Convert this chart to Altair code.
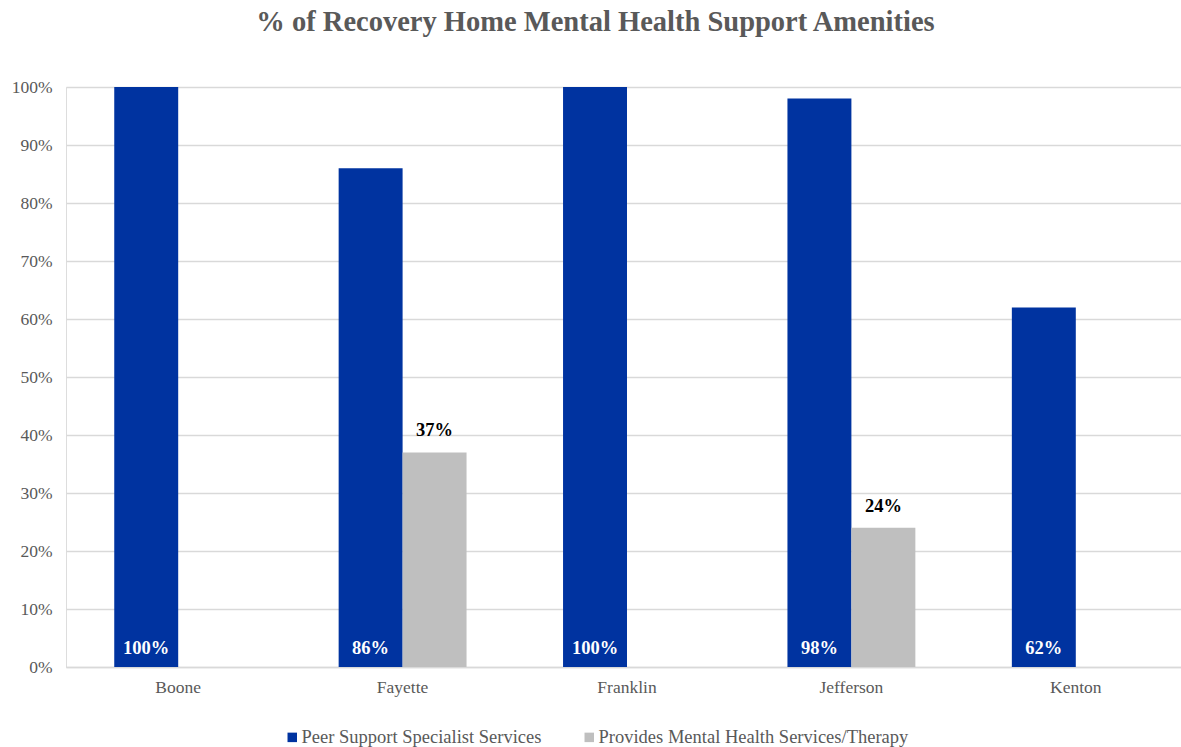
import altair as alt
import pandas as pd

counties = ["Boone", "Fayette", "Franklin", "Jefferson", "Kenton"]
series = ["Peer Support Specialist Services", "Provides Mental Health Services/Therapy"]
peer_values = [100, 86, 100, 98, 62]
mh_values = [None, 37, None, 24, None]

rows = []
for c, p, m in zip(counties, peer_values, mh_values):
    rows.append({"county": c, "series": series[0], "value": p})
    if m is not None:
        rows.append({"county": c, "series": series[1], "value": m})
df = pd.DataFrame(rows)
df["label"] = df["value"].astype(int).astype(str) + "%"

FONT = "Liberation Serif"
GREY_TEXT = "#595959"
GRID = "#D9D9D9"

x = alt.X("county:N", sort=counties, title=None,
          scale=alt.Scale(range=[0, 1122], paddingInner=0.43, paddingOuter=0.215),
          axis=alt.Axis(labelAngle=0, ticks=False, domain=True, domainColor=GRID,
                        domainWidth=1.5, labelFont=FONT, labelFontSize=17.5,
                        labelColor=GREY_TEXT, labelPadding=11))
xo = alt.XOffset("series:N", sort=series, scale=alt.Scale(domain=series))
y = alt.Y("value:Q", title=None,
          scale=alt.Scale(domain=[0, 100], nice=False),
          axis=alt.Axis(values=list(range(0, 101, 10)), labelExpr="datum.value + '%'",
                        ticks=False, domain=False, gridColor=GRID, gridWidth=1.5,
                        labelFont=FONT, labelFontSize=17.5, labelColor=GREY_TEXT,
                        labelPadding=14))

base = alt.Chart(df)

bars = base.mark_bar().encode(
    x=x, xOffset=xo, y=y,
    color=alt.Color("series:N", sort=series,
                    scale=alt.Scale(domain=series, range=["#0033A0", "#BFBFBF"]),
                    legend=alt.Legend(orient="none", legendX=217, legendY=641,
                                      direction="horizontal", title=None,
                                      symbolType="square", symbolSize=90,
                                      symbolStrokeWidth=0, labelFont=FONT,
                                      labelFontSize=18.5, labelColor=GREY_TEXT,
                                      labelLimit=0, columnPadding=38, labelOffset=0)),
)

blue_labels = base.transform_filter(alt.datum.series == series[0]).mark_text(
    font=FONT, fontSize=18.5, fontWeight="bold", color="white",
    baseline="bottom", dy=-9
).encode(x=x, xOffset=xo, y=alt.datum(0), text="label:N")

grey_labels = base.transform_filter(alt.datum.series == series[1]).mark_text(
    font=FONT, fontSize=18.5, fontWeight="bold", color="black",
    baseline="bottom", dy=-12
).encode(x=x, xOffset=xo, y=y, text="label:N")

chart = alt.layer(bars, blue_labels, grey_labels).properties(
    width=1115, height=580,
    autosize=alt.AutoSizeParams(type="none"),
    padding={"left": 66, "top": 87, "right": 0, "bottom": 80},
    title=alt.TitleParams("% of Recovery Home Mental Health Support Amenities",
                          font=FONT, fontSize=28.5, fontWeight="bold",
                          color=GREY_TEXT, anchor="middle", dx=-28, offset=42),
).configure_view(stroke=None).configure(background="white")

chart.save("out.html", embed_options={"renderer": "svg", "actions": False})
